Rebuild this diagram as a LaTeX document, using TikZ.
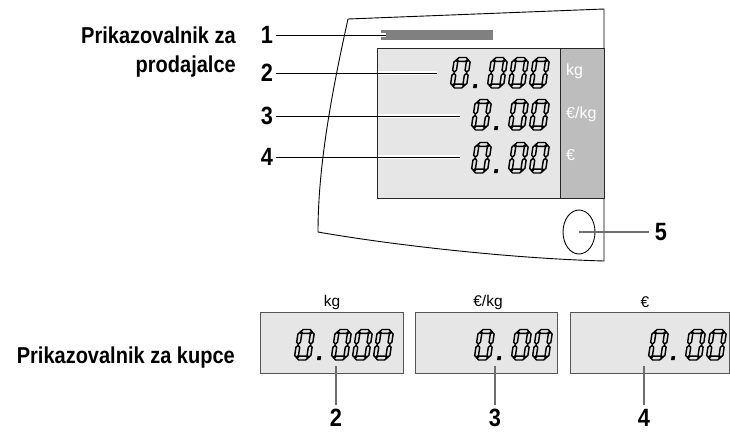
\documentclass[tikz,border=0pt]{standalone}
\usepackage{fontspec}
\setmainfont{Liberation Sans}
\newfontfamily\dinfont{Liberation Sans}[FakeStretch=0.87]
\usetikzlibrary{shapes.geometric}
\definecolor{panel}{HTML}{E6E6E6}
\definecolor{strip}{HTML}{BDBDBD}
\definecolor{barc}{HTML}{808080}
\definecolor{leadgray}{HTML}{6E6E6E}
\definecolor{boxline}{HTML}{555555}
% seven-segment helpers (local coords: y up)
\newcommand\hsegm[3]{\draw[segsty] ({#1},{#3}) -- ({#1+1.9},{#3+1.9}) -- ({#2-1.9},{#3+1.9}) -- ({#2},{#3}) -- ({#2-1.9},{#3-1.9}) -- ({#1+1.9},{#3-1.9}) -- cycle;}
\newcommand\vsegm[3]{\draw[segsty] ({#1},{#2}) -- ({#1+1.9},{#2+1.9}) -- ({#1+1.9},{#3-1.9}) -- ({#1},{#3}) -- ({#1-1.9},{#3-1.9}) -- ({#1-1.9},{#2+1.9}) -- cycle;}
\newcommand\sevzero[2]{%
  \begin{scope}[shift={(#1,#2)}, x=1pt, y=1pt, xslant=0.15]
    \hsegm{2.7}{13.5}{1.9}
    \hsegm{2.7}{13.5}{28.6}
    \vsegm{1.9}{2.7}{14.6}
    \vsegm{1.9}{15.9}{27.8}
    \vsegm{14.3}{2.7}{14.6}
    \vsegm{14.3}{15.9}{27.8}
  \end{scope}}
\newcommand\sevdot[2]{%
  \begin{scope}[shift={(#1,#2)}, x=1pt, y=1pt, xslant=0.15]
    \fill (0,0) rectangle (3.6,3.8);
  \end{scope}}
\begin{document}
\begin{tikzpicture}[x=1pt,y=-1pt,
  lbl/.style={font=\dinfont\bfseries\fontsize{23}{26}\selectfont, inner sep=0},
  num/.style={font=\dinfont\bfseries\fontsize{25}{28}\selectfont, inner sep=0},
  lead/.style={line width=1pt, black},
  halo/.style={line width=3.2pt, white},
  leadg/.style={line width=1.3pt, leadgray},
  unitw/.style={font=\fontsize{16}{18}\selectfont, text=white, inner sep=0, anchor=west},
  unitb/.style={font=\fontsize{15.5}{18}\selectfont, inner sep=0},
  segsty/.style={line width=1.45pt, line join=miter, black},
  boxsty/.style={draw=boxline, fill=panel, line width=1pt}]
\useasboundingbox (0,0) rectangle (730,432);

% device outline
\draw[line width=0.9pt] (318,232) .. controls (318,170) and (330,100) .. (348,19)
   -- (604,9) -- (604,261) .. controls (500,258) and (380,243) .. (318,232);

% seller panel
\draw[fill=panel, draw=black!85, line width=1pt] (377,48) rectangle (604,198);
\fill[strip] (560,48) rectangle (604,198);
\draw[black!85, line width=1pt] (560,48) -- (560,198);
\draw[black!85, line width=1pt] (377,48) rectangle (604,198);
\fill[barc] (381,30) rectangle (493,40);

% digits on seller panel
\sevzero{450}{88}\sevdot{473}{88}\sevzero{487}{88}\sevzero{508}{88}\sevzero{529}{88}
\sevzero{471}{130}\sevdot{494}{130}\sevzero{508}{130}\sevzero{529}{130}
\sevzero{471}{173}\sevdot{494}{173}\sevzero{508}{173}\sevzero{529}{173}

% unit labels
\node[unitw] (u1) at (566,71) {kg};
\node[unitw] (u2) at (566,114) {€/kg};
\node[unitw] (u3) at (566,155) {€};

% labels left
\node[lbl, anchor=base east] (t1) at (236,43) {Prikazovalnik za};
\node[lbl, anchor=base east] (t2) at (236,72) {prodajalce};
\node[num] (n1) at (267,35) {1};
\node[num] (n2) at (267,73) {2};
\node[num] (n3) at (267,116) {3};
\node[num] (n4) at (267,157) {4};

\coordinate (e1) at (386,35);
\coordinate (e2) at (437,73);
\coordinate (e3) at (460,116);
\coordinate (e4) at (460,157);
\coordinate (p1) at (381,35);
\coordinate (p2) at (378,73);
\coordinate (p3) at (378,116);
\coordinate (p4) at (378,157);
\draw[halo] (p1) -- (e1);
\draw[halo] (p2) -- (e2);
\draw[halo] (p3) -- (e3);
\draw[halo] (p4) -- (e4);
\draw[lead, shorten <=3pt] (n1.east) -- (e1);
\draw[lead, shorten <=3pt] (n2.east) -- (e2);
\draw[lead, shorten <=3pt] (n3.east) -- (e3);
\draw[lead, shorten <=3pt] (n4.east) -- (e4);

% button 5
\node[ellipse, draw, line width=0.9pt, minimum width=32pt, minimum height=44pt, inner sep=0] (btn) at (579,232) {};
\node[num] (n5) at (661,232) {5};
\draw[leadg, shorten >=6pt] (btn.center) -- (n5.west);

% customer displays
\draw[boxsty] (260,312) rectangle (403,373);
\draw[boxsty] (415,312) rectangle (557,373);
\draw[boxsty] (570,312) rectangle (729,373);
\node[unitb] (k1) at (332,302) {kg};
\node[unitb] (k2) at (488,302) {€/kg};
\node[unitb] (k3) at (645,302) {€};

\sevzero{294}{360}\sevdot{317}{360}\sevzero{331}{360}\sevzero{352}{360}\sevzero{373}{360}
\sevzero{474}{360}\sevdot{497}{360}\sevzero{511}{360}\sevzero{532}{360}
\sevzero{648}{360}\sevdot{671}{360}\sevzero{685}{360}\sevzero{706}{360}

\node[lbl, anchor=base east] (t3) at (235,363) {Prikazovalnik za kupce};

\node[num] (m2) at (336,418) {2};
\node[num] (m3) at (495,418) {3};
\node[num] (m4) at (644,418) {4};
\coordinate (b2) at (336,366);
\coordinate (b3) at (495,366);
\coordinate (b4) at (644,366);
\draw[leadg, shorten >=4pt] (b2) -- (m2.north);
\draw[leadg, shorten >=4pt] (b3) -- (m3.north);
\draw[leadg, shorten >=4pt] (b4) -- (m4.north);
\end{tikzpicture}
\end{document}
